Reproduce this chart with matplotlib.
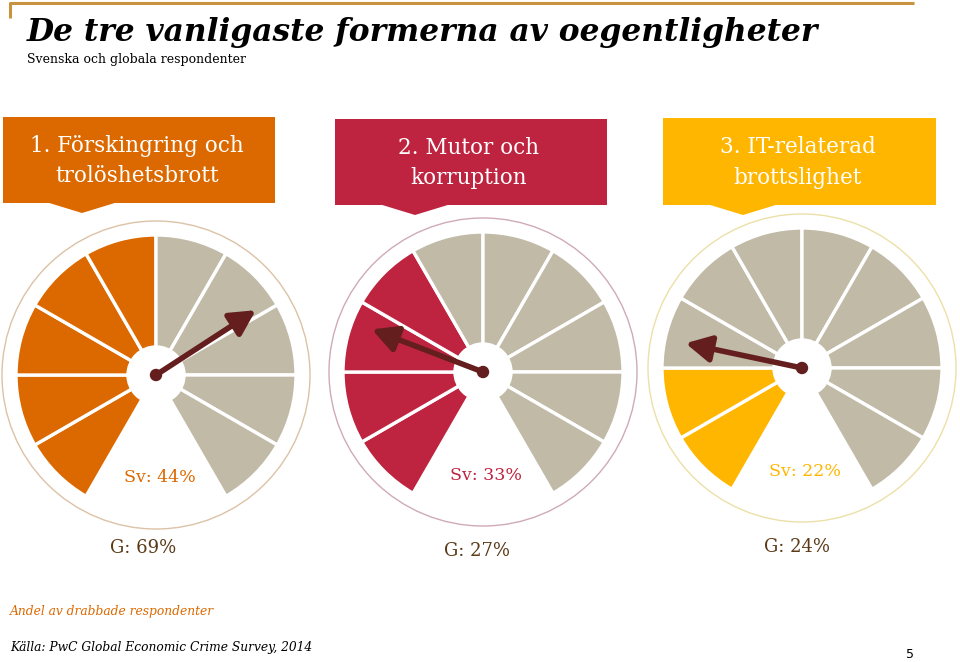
import numpy as np
import matplotlib
matplotlib.use("Agg")
import matplotlib.pyplot as plt
from matplotlib.patches import Rectangle, Polygon, Circle

# Data
titles = ["1. Förskingring och\ntrolöshetsbrott", "2. Mutor och\nkorruption", "3. IT-relaterad\nbrottslighet"]
sv_labels = ["Sv: 44%", "Sv: 33%", "Sv: 22%"]
g_labels = ["G: 69%", "G: 27%", "G: 24%"]
g_values = [69, 27, 24]          # global share -> needle position
filled_segments = [5, 4, 2]      # coloured segments out of 10 (Swedish share)
n_segments = 10

main_colors = ["#dc6900", "#be2440", "#ffb600"]
ring_colors = ["#dcc2a6", "#cfaab8", "#ece0a8"]
gray = "#c0baa7"
needle_color = "#641e1e"
g_color = "#5c3a18"
serif = "DejaVu Serif"

W, H = 960, 662
fig = plt.figure(figsize=(W / 100, H / 100), dpi=100)

# background axes in pixel coordinates for boxes, lines and texts
bg = fig.add_axes([0, 0, 1, 1])
bg.set_xlim(0, W)
bg.set_ylim(H, 0)
bg.axis("off")

# top frame line
bg.plot([10, 10, 914], [18, 3, 3], color="#c8923f", lw=2.2, solid_capstyle="butt")

bg.text(27, 33, "De tre vanligaste formerna av oegentligheter", family=serif,
        fontsize=22.5, fontweight="bold", style="italic", va="center", ha="left")
bg.text(27, 60, "Svenska och globala respondenter", family=serif, fontsize=9,
        va="center", ha="left")

# header boxes (left, right, top, bottom, tab tip x)
boxes = [(3, 275, 117, 203, 82), (335, 607, 119, 205, 415), (663, 936, 118, 205, 743)]
for (x0, x1, y0, y1, tx), title, col in zip(boxes, titles, main_colors):
    bg.add_patch(Rectangle((x0, y0), x1 - x0, y1 - y0, color=col, lw=0))
    bg.add_patch(Polygon([(tx - 36, y1 - 1), (tx, y1 + 10), (tx + 36, y1 - 1)],
                         closed=True, color=col, lw=0))
    bg.text((x0 + x1) / 2 - 2, (y0 + y1) / 2 + 1, title, color="white", family=serif,
            fontsize=15.5, ha="center", va="center", linespacing=1.5)

# gauges
centers = [(156, 375), (483, 372), (802, 368)]
R = 140.0       # segment radius in px
half = 162.0    # half size of gauge axes in px
sv_pos = [(160, 478), (486, 475), (805, 472)]
g_pos = [(143, 548), (477, 551), (797, 547)]

for i, (cx, cy) in enumerate(centers):
    ax = fig.add_axes([(cx - half) / W, (H - cy - half) / H, 2 * half / W, 2 * half / H])
    sizes = [30] * n_segments + [60]
    colors = [main_colors[i]] * filled_segments[i] + [gray] * (n_segments - filled_segments[i]) + ["white"]
    wedges, _ = ax.pie(sizes, colors=colors, startangle=240, counterclock=False,
                       radius=1.0, wedgeprops=dict(edgecolor="white", linewidth=2.4))
    wedges[-1].set_visible(False)
    ax.add_patch(Circle((0, 0), 154 / R, fill=False, edgecolor=ring_colors[i], lw=1.0))
    ax.add_patch(Circle((0, 0), 29 / R, color="white", zorder=3))

    # needle pointing at the global share (gauge spans 240 deg -> -60 deg)
    ang = np.deg2rad(240 - g_values[i] * 3.0)
    L = 0.85
    ax.annotate("", xy=(L * np.cos(ang), L * np.sin(ang)), xytext=(0, 0),
                arrowprops=dict(arrowstyle="-|>,head_length=0.95,head_width=0.5",
                                color=needle_color, lw=4, shrinkA=0, shrinkB=0,
                                mutation_scale=16), zorder=4)
    ax.add_patch(Circle((0, 0), 5.5 / R, color=needle_color, zorder=5))

    lim = half / R
    ax.set_xlim(-lim, lim)
    ax.set_ylim(-lim, lim)
    ax.set_aspect("equal")
    ax.axis("off")

    sx, sy = sv_pos[i]
    ax.text((sx - cx) / R, -(sy - cy) / R, sv_labels[i], color=main_colors[i],
            family=serif, fontsize=12.5, ha="center", va="center")

    gx, gy = g_pos[i]
    bg.text(gx, gy, g_labels[i], color=g_color, family=serif, fontsize=13,
            ha="center", va="center")

bg.text(10, 612, "Andel av drabbade respondenter", color="#dc6900", family=serif,
        style="italic", fontsize=8.8, ha="left", va="center")
bg.text(10, 648, "Källa: PwC Global Economic Crime Survey, 2014", color="black",
        family=serif, style="italic", fontsize=8.8, ha="left", va="center")
bg.text(910, 655, "5", color="black", family="DejaVu Sans", fontsize=9,
        ha="center", va="center")

fig.savefig("out.png", dpi=100)
